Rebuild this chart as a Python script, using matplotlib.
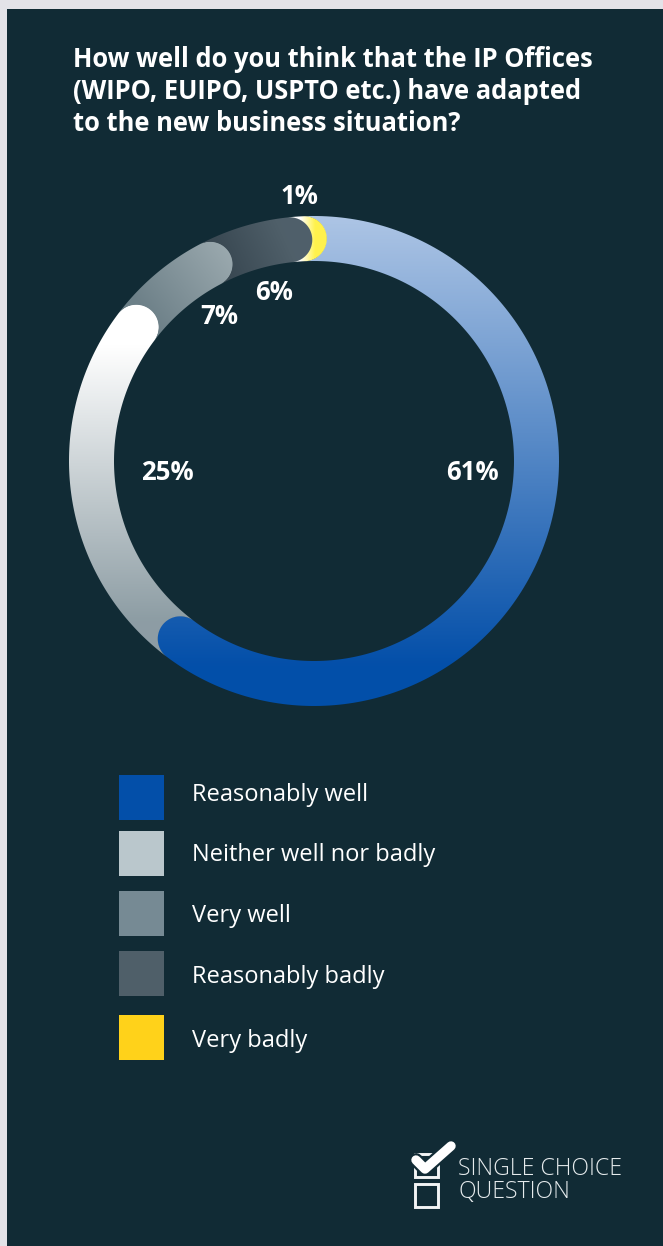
import numpy as np
import matplotlib
matplotlib.use("Agg")
import matplotlib.pyplot as plt
from matplotlib.colors import to_rgb
from matplotlib.patches import PathPatch, Rectangle
from matplotlib.path import Path

# survey answers
answers = ["Reasonably well", "Neither well nor badly", "Very well", "Reasonably badly", "Very badly"]
shares = [61, 25, 7, 6, 1]
legend_colors = ["#034fa9", "#bac7cc", "#768a94", "#4f5f69", "#ffd21a"]

title_lines = [
    "How well do you think that the IP Offices",
    "(WIPO, EUIPO, USPTO etc.) have adapted",
    "to the new business situation?",
]
question_type = ["SINGLE CHOICE", "QUESTION"]

BACKGROUND = "#e3e3e8"
PANEL = "#112b35"
FONT = "Open Sans"

W, H = 663, 1246
CX, CY = 314, 461
R_OUT, R_IN = 245, 200
START_DEG = -2.5

# gradient per slice: (first colour, last colour, gradient start, gradient end)
ring_fills = [
    ("#adc5e5", "#034fa9", (314, 216), (314, 665)),
    ("#ffffff", "#8d9da4", (314, 345), (314, 620)),
    ("#a0aeb3", "#6d8088", (245, 250), (150, 320)),
    ("#50606a", "#3a4953", (285, 235), (225, 262)),
    ("#ffffff", "#fff24c", (300, 235), (315, 235)),
]
label_xy = [(472, 473), (167, 473), (219, 316), (274, 292), (299, 197)]
legend_y = [775, 831, 891, 951, 1015]
legend_text_y = [801, 861, 922, 983, 1047]


def ring_point(deg, t):
    # deg runs clockwise from 12 o'clock, t is the angle on the end cap
    a = np.radians(deg)
    mid = (R_OUT + R_IN) / 2
    half = (R_OUT - R_IN) / 2
    radial = np.array([np.sin(a), -np.cos(a)])
    tangent = np.array([np.cos(a), np.sin(a)])
    centre = np.array([CX, CY]) + mid * radial
    return np.column_stack([
        centre[0] + half * (np.cos(t) * radial[0] + np.sin(t) * tangent[0]),
        centre[1] + half * (np.cos(t) * radial[1] + np.sin(t) * tangent[1]),
    ])


def slice_path(a0, a1):
    # ring segment with a round head and a hollow tail that fits the previous head
    outer = np.radians(np.linspace(a0, a1, 200))
    inner = outer[::-1]
    pts = [
        np.column_stack([CX + R_OUT * np.sin(outer), CY - R_OUT * np.cos(outer)]),
        ring_point(a1, np.linspace(0, np.pi, 60)),
        np.column_stack([CX + R_IN * np.sin(inner), CY - R_IN * np.cos(inner)]),
        ring_point(a0 - 0.15, np.linspace(np.pi, 0, 60)),
    ]
    pts = np.vstack(pts)
    return Path(np.vstack([pts, pts[0]]), closed=True)


def gradient_fill(ax, path, c0, c1, p0, p1):
    x0, y0, x1, y1 = np.floor(path.get_extents().extents)
    x1, y1 = x1 + 2, y1 + 2
    xx, yy = np.meshgrid(np.arange(x0, x1, 0.5), np.arange(y0, y1, 0.5))
    d = np.array(p1, float) - np.array(p0, float)
    t = np.clip(((xx - p0[0]) * d[0] + (yy - p0[1]) * d[1]) / (d @ d), 0, 1)[..., None]
    img = (1 - t) * np.array(to_rgb(c0)) + t * np.array(to_rgb(c1))
    im = ax.imshow(img, extent=(x0, x1, y1, y0), interpolation="bilinear", zorder=3, aspect="auto")
    patch = PathPatch(path, facecolor="none", edgecolor="none", zorder=3)
    ax.add_patch(patch)
    im.set_clip_path(patch)


fig = plt.figure(figsize=(W / 100, H / 100), dpi=100, facecolor=BACKGROUND)
ax = fig.add_axes([0, 0, 1, 1])
ax.set_axis_off()

ax.add_patch(Rectangle((7, 9), W - 7, H - 9, facecolor=PANEL, edgecolor="none", zorder=1))

# title
for y, line in zip([67, 99, 131], title_lines):
    ax.text(73, y, line, color="white", fontsize=18.4, fontweight="bold", family=FONT, va="baseline", zorder=5)

# donut
edges = START_DEG + np.concatenate([[0], np.cumsum(shares)]) * 360 / sum(shares)
for i, fill in enumerate(ring_fills):
    gradient_fill(ax, slice_path(edges[i], edges[i + 1]), *fill)

for (x, y), share in zip(label_xy, shares):
    ax.text(x, y, f"{share}%", color="white", fontsize=18.5, fontweight="bold", family=FONT,
            ha="center", va="center", zorder=5)

# legend
for y, text_y, name, color in zip(legend_y, legend_text_y, answers, legend_colors):
    ax.add_patch(Rectangle((119, y), 45, 45, facecolor=color, edgecolor="none", zorder=3))
    ax.text(192, text_y, name, color="white", fontsize=17, family=FONT, va="baseline", zorder=5)

# question type icon
for y in [1153.5, 1183.5]:
    ax.add_patch(Rectangle((415, y), 23, 23, facecolor="none", edgecolor="#f2f4f5", linewidth=2.1, zorder=4))
check_x = [416, 425, 451]
check_y = [1160, 1169, 1146]
ax.plot(check_x, check_y, color=PANEL, linewidth=10, solid_capstyle="round", solid_joinstyle="round", zorder=5)
ax.plot(check_x, check_y, color="white", linewidth=6.8, solid_capstyle="round", solid_joinstyle="round", zorder=6)

for y, line in zip([1175, 1198], question_type):
    ax.text(458, y, line, color="#e6ebed", fontsize=16.6, fontweight="light", family=FONT, va="baseline", zorder=5)

ax.set_xlim(0, W)
ax.set_ylim(H, 0)

fig.savefig("out.png", dpi=100, facecolor=BACKGROUND)
